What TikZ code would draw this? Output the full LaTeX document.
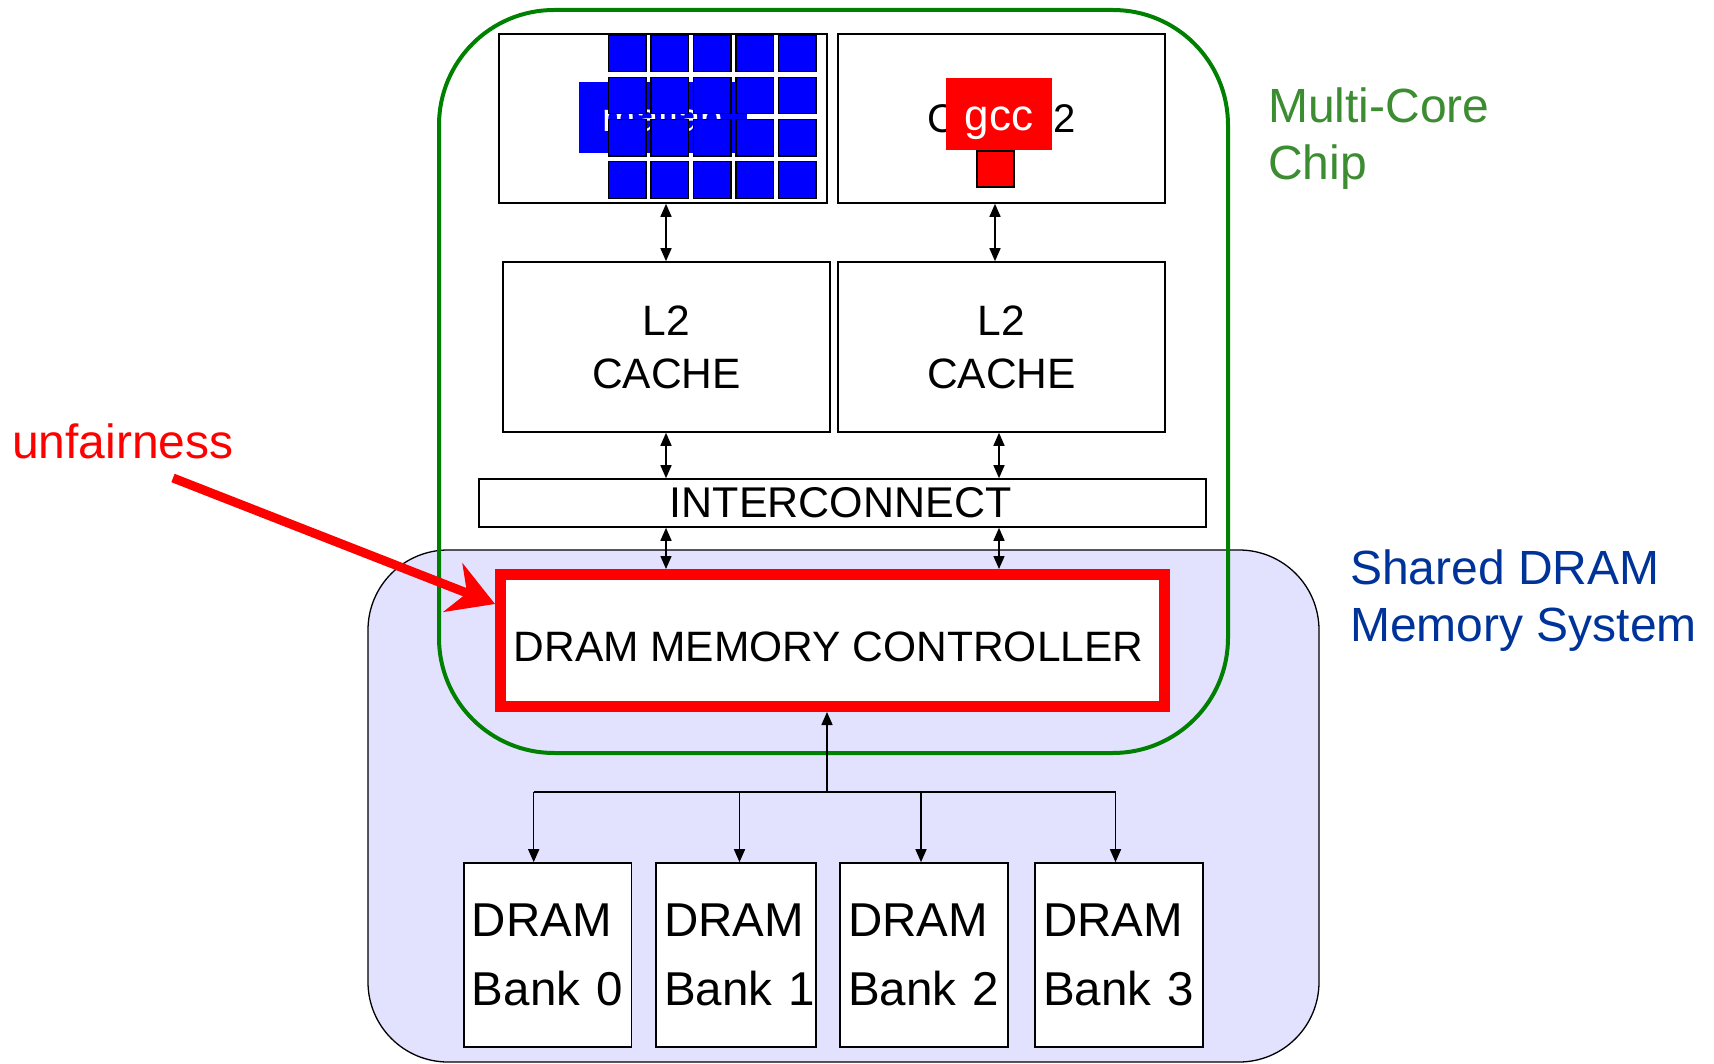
\documentclass[tikz,border=0pt]{standalone}
\usepackage{fontspec}
\setmainfont{Liberation Sans}
\usetikzlibrary{arrows.meta}
\definecolor{chipgreen}{RGB}{0,128,0}
\definecolor{chiplabel}{RGB}{60,140,50}
\definecolor{dramblue}{RGB}{0,51,153}
\definecolor{dramfill}{RGB}{226,226,255}
\tikzset{
    box/.style={draw, fill=white, line width=1.6pt, inner sep=0pt},
    link/.style={line width=1.5pt, >={Triangle[length=13pt,width=11pt]}},
    bigtext/.style={font=\fontsize{42.5}{53}\selectfont},
    sidetext/.style={font=\fontsize{48}{57}\selectfont, align=left, anchor=north west, inner sep=0pt},
}
\begin{document}
\begin{tikzpicture}[x=1pt,y=-1pt]
    \useasboundingbox (0,0) rectangle (1714,1064);
    % shared dram and chip outlines
    \draw[fill=dramfill, line width=1.3pt, rounded corners=80pt] (368,550) rectangle (1319,1062);
    \draw[chipgreen, line width=4pt, rounded corners=115pt] (439,10) rectangle (1228,753);

    % cores
    \node[box, minimum width=328pt, minimum height=169pt, font=\fontsize{40}{48}\selectfont] (core1) at (663,118.5) {CORE 1};
    \node[box, minimum width=327pt, minimum height=169pt, font=\fontsize{40}{48}\selectfont] (core2) at (1001.5,118.5) {CORE 2};
    \node[fill=blue, text=white, minimum width=168pt, minimum height=71pt, font=\fontsize{40}{48}\selectfont] (matlab) at (663,117.5) {matlab};
    \foreach \i in {0,...,4}
        \foreach \j in {0,...,3}
            \draw[fill=blue, line width=1.2pt] ({608.5+42.5*\i},{35+42.3*\j}) rectangle +(37.5,36.5);
    \node[fill=red, minimum width=106pt, minimum height=72pt,
          label={[text=white, font=\fontsize{44}{52}\selectfont, yshift=-9pt]center:gcc}] (gcc) at (999,114) {};
    \draw[fill=red, line width=1.3pt] (977,151) rectangle (1014,187);

    % caches, interconnect, controller
    \node[box, bigtext, align=center, minimum width=327pt, minimum height=170pt] (l2a) at (666.5,347) {L2\\CACHE};
    \node[box, bigtext, align=center, minimum width=327pt, minimum height=170pt] (l2b) at (1001.5,347) {L2\\CACHE};
    \node[box, font=\fontsize{43}{53}\selectfont, minimum width=727pt, minimum height=48pt,
          label={[font=\fontsize{43}{53}\selectfont, xshift=-2pt]center:INTERCONNECT}] (ic) at (842.7,503) {};
    \node[draw=red, fill=white, line width=11pt, minimum width=664pt, minimum height=132pt,
          label={[bigtext, xshift=-4pt, yshift=-6.5pt]center:DRAM MEMORY CONTROLLER}] (mc) at (832.5,640.5) {};

    % banks
    \foreach \b/\x/\w in {0/547.7/167.5, 1/736/160, 2/924/168, 3/1119/168}
        \node[box, align=left, text width=\w pt - 16pt, minimum width=\w pt, minimum height=184pt,
              font=\fontsize{47.5}{69}\selectfont] (b\b) at (\x,955) {DRAM\\\mbox{Bank \b}};

    % links
    \coordinate (lane1) at (666,0);
    \coordinate (lane2) at (995,0);
    \coordinate (lane3) at (999,0);
    \draw[link,<->] (core1.south -| lane1) -- (l2a.north -| lane1);
    \draw[link,<->] (core2.south -| lane2) -- (l2b.north -| lane2);
    \draw[link,<->] (l2a.south -| lane1) -- (ic.north -| lane1);
    \draw[link,<->] (l2b.south -| lane3) -- (ic.north -| lane3);
    \draw[link,<->] (ic.south -| lane1) -- (mc.north -| lane1);
    \draw[link,<->] (ic.south -| lane3) -- (mc.north -| lane3);

    \coordinate (bus) at (827,792);
    \draw[link,->] (bus) -- (bus |- mc.south);
    \draw[link] ([xshift=-14pt]b0.north |- bus) -- ([xshift=-3.5pt]b3.north |- bus);
    \foreach \b/\dx in {0/-14, 1/3.5, 2/-3, 3/-3.5}
        \draw[link,->] ([xshift=\dx pt]b\b.north |- bus) -- ([xshift=\dx pt]b\b.north);

    % labels
    \node[red, font=\fontsize{48}{58}\selectfont, anchor=base west, inner sep=0pt] (unf) at (12,458) {unfairness};
    \node[sidetext, text=chiplabel] (chip) at (1268,88) {Multi-Core\\Chip};
    \node[sidetext, text=dramblue] (dram) at (1350,550) {Shared DRAM\\Memory System};

    \coordinate (unf-tail) at (173,478);
    \draw[red, line width=9pt, -{Stealth[length=45pt,width=52pt,inset=15pt]}] (unf-tail) -- ([yshift=36.5pt]mc.west);
\end{tikzpicture}
\end{document}
